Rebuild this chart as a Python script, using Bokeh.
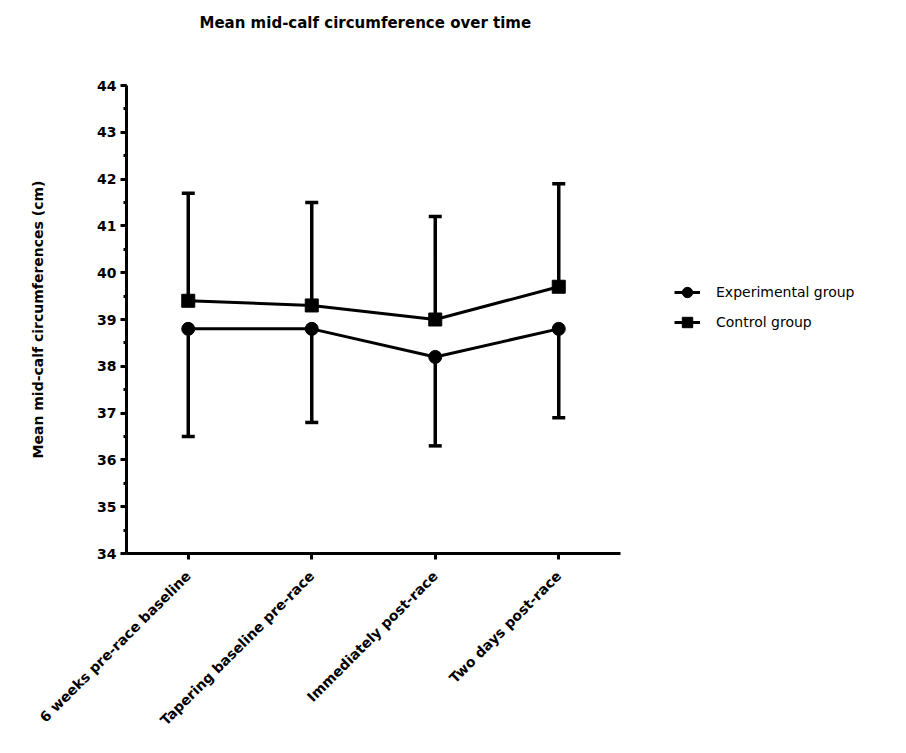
import math

from bokeh.embed import file_html
from bokeh.models import (ColumnDataSource, FactorRange, Legend, LegendItem,
                          Range1d, SingleIntervalTicker, TeeHead, Title, Whisker)
from bokeh.plotting import figure
from bokeh.resources import INLINE

# Time points and group statistics (mean and SD, cm)
timepoints = ["6 weeks pre-race baseline", "Tapering baseline pre-race",
              "Immediately post-race", "Two days post-race"]
exp_mean = [38.8, 38.8, 38.2, 38.8]
exp_sd = [2.3, 2.0, 1.9, 1.9]
ctrl_mean = [39.4, 39.3, 39.0, 39.7]
ctrl_sd = [2.3, 2.2, 2.2, 2.2]

FONT = "DejaVu Sans"
INK = "#000000"

exp_src = ColumnDataSource(dict(
    x=timepoints, y=exp_mean,
    lower=[m - s for m, s in zip(exp_mean, exp_sd)],
))
ctrl_src = ColumnDataSource(dict(
    x=timepoints, y=ctrl_mean,
    upper=[m + s for m, s in zip(ctrl_mean, ctrl_sd)],
))

p = figure(
    frame_width=494, frame_height=468,
    x_range=FactorRange(*timepoints, range_padding=0),
    y_range=Range1d(34, 44),
    output_backend="svg", toolbar_location=None,
    min_border_left=126, min_border_right=286,
    min_border_top=85, min_border_bottom=200,
)
p.outline_line_color = None
p.xgrid.visible = False
p.ygrid.visible = False
p.background_fill_color = "white"
p.border_fill_color = "white"

# Chart title, lifted clear of the frame by a blank spacer title below it
p.title.text = "Mean mid-calf circumference over time"
p.title.align = "left"
p.title.offset = 73
p.title.standoff = 22
p.title.text_font = FONT
p.title.text_font_style = "bold"
p.title.text_font_size = "15px"
p.title.text_color = INK

p.add_layout(Title(text=" ", standoff=24.5, text_font=FONT,
                   text_font_size="14px"), "above")

# Error bars: experimental group downward, control group upward
p.add_layout(Whisker(source=exp_src, base="x", lower="lower", upper="y",
                     dimension="height", line_color=INK, line_width=3.5,
                     lower_head=TeeHead(size=13, line_width=3.5, line_color=INK),
                     upper_head=None, level="underlay"))
p.add_layout(Whisker(source=ctrl_src, base="x", lower="y", upper="upper",
                     dimension="height", line_color=INK, line_width=3.5,
                     upper_head=TeeHead(size=13, line_width=3.5, line_color=INK),
                     lower_head=None, level="underlay"))

exp_line = p.line("x", "y", source=exp_src, line_color=INK, line_width=3)
exp_pts = p.scatter("x", "y", source=exp_src, marker="circle", size=13,
                    fill_color=INK, line_color=INK)
ctrl_line = p.line("x", "y", source=ctrl_src, line_color=INK, line_width=3)
ctrl_pts = p.scatter("x", "y", source=ctrl_src, marker="square", size=13,
                     fill_color=INK, line_color=INK)

# Axes
for ax in (p.xaxis[0], p.yaxis[0]):
    ax.axis_line_width = 3
    ax.axis_line_color = INK
    ax.major_tick_line_width = 3
    ax.major_tick_line_color = INK
    ax.major_tick_in = 0
    ax.major_tick_out = 6
    ax.major_label_text_font = FONT
    ax.major_label_text_font_style = "bold"
    ax.major_label_text_font_size = "14px"
    ax.major_label_text_color = INK

p.yaxis.ticker = SingleIntervalTicker(interval=1, num_minor_ticks=2)
p.yaxis.minor_tick_line_width = 3
p.yaxis.minor_tick_line_color = INK
p.yaxis.minor_tick_in = 0
p.yaxis.minor_tick_out = 3
p.yaxis.major_label_standoff = 4
p.yaxis.axis_label = "Mean mid-calf circumferences (cm)"
p.yaxis.axis_label_text_font = FONT
p.yaxis.axis_label_text_font_style = "bold"
p.yaxis.axis_label_text_font_size = "14px"
p.yaxis.axis_label_text_color = INK
p.yaxis.axis_label_standoff = 48

p.xaxis.major_label_orientation = math.pi / 4
p.xaxis.major_label_standoff = 14

legend = Legend(
    items=[LegendItem(label="Experimental group", renderers=[exp_line, exp_pts]),
           LegendItem(label="Control group", renderers=[ctrl_line, ctrl_pts])],
    location=(54, 216),
    border_line_color=None, background_fill_alpha=0,
    label_text_font=FONT, label_text_font_size="14px", label_text_color=INK,
    glyph_width=26, glyph_height=30, spacing=0, label_standoff=16,
)
p.add_layout(legend, "right")

open("out.html", "w").write(file_html(p, INLINE))
